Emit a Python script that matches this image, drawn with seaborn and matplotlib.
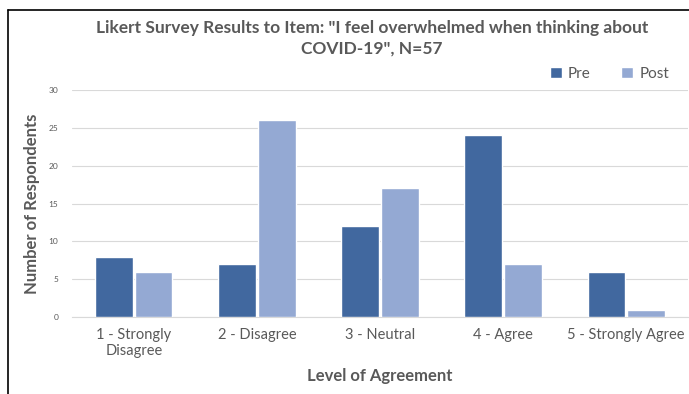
import pandas as pd
import seaborn as sns
from matplotlib import pyplot as plt
from matplotlib.lines import Line2D

# Data
categories = ["1 - Strongly\nDisagree", "2 - Disagree", "3 - Neutral", "4 - Agree", "5 - Strongly Agree"]
pre_counts = [8, 7, 12, 24, 6]
post_counts = [6, 26, 17, 7, 1]
y_ticks = [0, 5, 10, 15, 20, 25, 30]

df = pd.DataFrame({
    "category": categories * 2,
    "count": pre_counts + post_counts,
    "phase": ["Pre"] * len(categories) + ["Post"] * len(categories),
})

sns.set_style("white")
plt.rcParams["font.family"] = ["Lato", "DejaVu Sans"]

text_col = "#595959"
palette = {"Pre": "#41689f", "Post": "#94a9d3"}

fig = plt.figure(figsize=(6.89, 3.94), dpi=100)
ax = fig.add_axes([0.105, 0.195, 0.893, 0.577])

sns.barplot(data=df, x="category", y="count", hue="phase", palette=palette,
            width=0.64, gap=0.04, saturation=1, ax=ax, zorder=3)

ax.set_ylim(0, 30)
ax.set_yticks(y_ticks)
ax.grid(axis="y", color="#d9d9d9", linewidth=0.8, zorder=0)
ax.tick_params(axis="y", labelsize=6, colors=text_col, length=0, pad=10)
ax.tick_params(axis="x", labelsize=10.5, colors=text_col, length=0, pad=8)
for s in ["top", "right", "left"]:
    ax.spines[s].set_visible(False)
ax.spines["bottom"].set_color("#d9d9d9")

ax.set_xlabel("Level of Agreement", fontsize=12, fontweight="bold", color=text_col, labelpad=7)
ax.set_ylabel("Number of Respondents", fontsize=12, fontweight="bold", color=text_col, labelpad=6)

fig.suptitle('Likert Survey Results to Item: "I feel overwhelmed when thinking about\nCOVID-19", N=57',
             x=0.54, y=0.95, fontsize=12.5, fontweight="bold", color=text_col, linespacing=1.4)

leg = ax.legend(loc="lower right", bbox_to_anchor=(0.985, 1.0), ncol=2, frameon=False,
                fontsize=11, handlelength=0.8, handleheight=0.8, columnspacing=2.0,
                handletextpad=0.4, borderaxespad=0.2)
for t in leg.get_texts():
    t.set_color(text_col)

# outer border lines (left and top)
fig.add_artist(Line2D([0.012, 0.012], [0.0, 0.975], color="black", linewidth=1.2))
fig.add_artist(Line2D([0.012, 1.0], [0.975, 0.975], color="black", linewidth=1.2))

fig.savefig("out.png", dpi=100)
